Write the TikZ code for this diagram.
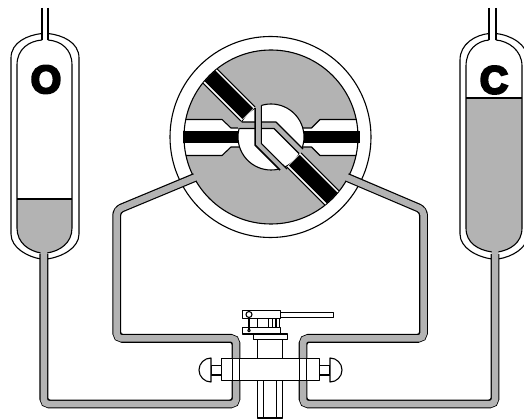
\documentclass[tikz,border=0pt]{standalone}
\usepackage{fontspec}
\setmainfont{Liberation Sans}
\newfontfamily\labelfont[BoldFeatures={FakeBold=6}]{Liberation Sans}
\definecolor{fluid}{HTML}{B3B3B3}
\tikzset{
  ln/.style={draw=black,line width=1.1pt,line join=round,line cap=butt},
  fluidfill/.style={fill=fluid,draw=none},
  pipeout/.style={draw=black,line width=8.9pt,rounded corners=5.5pt},
  pipein/.style={draw=fluid,line width=6.5pt,rounded corners=4.5pt},
  letter/.style={inner sep=0pt,font=\labelfont\bfseries\fontsize{39}{39}\selectfont}
}
\begin{document}
\begin{tikzpicture}[x=1pt,y=-1pt]
\useasboundingbox (0,0) rectangle (524,419);
\clip (0,0) rectangle (524,419);

% --- valve body (under the pipes)
\draw[ln,fill=white] (221.7,358.3) rectangle (319.3,380.7);
\draw[ln] (232.7,358.3) -- (232.7,380.7) (239.3,358.3) -- (239.3,380.7)
          (299.3,358.3) -- (299.3,380.7) (306.7,358.3) -- (306.7,380.7);
% knobs
\draw[ln,fill=white] (211,365.3) rectangle (221.7,375);
\draw[ln,fill=white] (319.3,365.3) rectangle (330,375);
\draw[ln,fill=white] (211,358) arc[start angle=-90,end angle=-270,radius=12] -- cycle;
\draw[ln,fill=white] (330,358) arc[start angle=-90,end angle=90,radius=12] -- cycle;
% stem, flange, bottom
\draw[ln,fill=white] (257.7,339.3) rectangle (282.7,358.3);
\draw[ln,fill=white] (253.3,334) rectangle (287.7,339.3);
\draw[ln,fill=white] (257.7,380.7) rectangle (282.7,418);
\draw[ln] (263.3,380.7) -- (263.3,418) (276.7,380.7) -- (276.7,418);
% head
\draw[ln,fill=white] (242.7,327.7) rectangle (280.7,334);
\draw[ln,fill=white] (280.7,312.7) rectangle (333.7,317.3);
\draw[ln] (257.3,318) -- (257.3,328) (268.3,318) -- (268.3,328) (272.7,318) -- (272.7,328)
          (276,318) -- (276,328) (279.3,318) -- (279.3,328) (249,316) -- (249,330);
\draw[ln,fill=white] (242.7,310.7) rectangle (280.7,318.3);
\draw[ln,fill=white] (249,314.5) circle[radius=3];
\draw[ln,fill=white] (249,330.5) circle[radius=1.3];

% --- left vessel
\draw[fluidfill] (17,199) -- (72,199) -- (72,228) .. controls (72,243) and (60,251) .. (48,253) -- (41,253)
   .. controls (29,251) and (17,243) .. (17,228) -- cycle;
\draw[ln] (17,199) -- (72,199);
\draw[ln] (42,33.5) .. controls (28,35) and (11,42) .. (11,58) -- (11,234) .. controls (11,248) and (28,257) .. (41,259);
\draw[ln] (48,33.5) .. controls (62,35) and (79,42) .. (79,58) -- (79,234) .. controls (79,248) and (62,257) .. (47,259);
\draw[ln] (42,40) .. controls (29,41) and (17,49) .. (17,65) -- (17,228) .. controls (17,243) and (29,251) .. (41,253);
\draw[ln] (48,40) .. controls (61,41) and (72,49) .. (72,65) -- (72,228) .. controls (72,243) and (60,251) .. (47,253);
\draw[ln] (42,8) -- (42,40) (48,8) -- (48,40);
\node[letter] (labelO) at (46,79.5) {O};

% --- right vessel
\draw[fluidfill] (466,98) -- (522,98) -- (522,228) .. controls (522,243) and (510,250) .. (498,252) -- (492,252)
   .. controls (478,250) and (466,243) .. (466,228) -- cycle;
\draw[ln] (466,98) -- (522,98);
\draw[ln] (489,33.5) .. controls (475,35) and (460,44) .. (460,60) -- (460,234) .. controls (460,248) and (477,257) .. (492,259);
\draw[ln] (496,33.5) .. controls (510,35) and (528,44) .. (528,60) -- (528,234) .. controls (528,248) and (512,257) .. (498,259);
\draw[ln] (489,40) .. controls (477,41) and (466,50) .. (466,66) -- (466,228) .. controls (466,243) and (478,250) .. (492,252);
\draw[ln] (496,40) .. controls (508,41) and (522,50) .. (522,66) -- (522,228) .. controls (522,243) and (510,250) .. (498,252);
\draw[ln] (489,8) -- (489,40) (496,8) -- (496,40);
\node[letter] (labelC) at (494,80) {C};

% --- selector: ring and disk
\draw[ln,fill=white] (270.5,137) circle[radius=100.5];
\fill[fluid] (271,137) circle[radius=87];
\begin{scope}
  \clip (271,137) circle[radius=87];
  \fill[white] (180,119.5) -- (222,119.5) -- (231,128) -- (240,128) -- (240,147) -- (231,147) -- (222,155.5) -- (180,155.5) -- cycle;
  \fill[white] (362,119.5) -- (320,119.5) -- (311.5,128) -- (302,128) -- (302,147) -- (311.5,147) -- (320,155.5) -- (362,155.5) -- cycle;
  \draw[ln] (180,119.5) -- (222,119.5) -- (231,128) -- (240,128)
            (240,147) -- (231,147) -- (222,155.5) -- (180,155.5);
  \draw[ln] (362,119.5) -- (320,119.5) -- (311.5,128) -- (302,128)
            (302,147) -- (311.5,147) -- (320,155.5) -- (362,155.5);
\end{scope}
\draw[ln] (271,137) circle[radius=87];

% rotor
\draw[ln,fill=white] (271,137) circle[radius=33];
\fill[fluid] (238,122) -- (276,122) -- (305,151) -- (300,155.5) -- (274,128.5) -- (238,128.5) -- cycle;
\draw[ln] (241.5,122) -- (276,122) -- (303,149);
\draw[ln] (239.3,128.5) -- (274,128.5) -- (299,153.5);
\fill[fluid] (255,103) -- (261.3,103) -- (261.3,143.5) -- (290,172) -- (282,172) -- (255,145) -- cycle;
\draw[ln,line width=1.5pt] (255,108) -- (255,145) -- (280,170);
\draw[ln] (261.3,105.5) -- (261.3,143.5) -- (287,169);

% horizontal bars
\fill[black] (182.5,131.5) rectangle (238,143.5);
\fill[black] (304,131.5) rectangle (359.5,143.5);

% diagonal bars
\foreach \ang in {-45,135}{
  \begin{scope}[shift={(271,137)},rotate=\ang]
    \fill[white] (32.5,-10) rectangle (86,10);
    \draw[ln] (32.5,-10) -- (86,-10) (32.5,10) -- (86,10);
    \fill[black] (33,-7.6) rectangle (86.6,7.6);
  \end{scope}
}

% --- pipes
\draw[pipeout] (195,177.4) -- (116.7,210) -- (116.7,338.3) -- (236,338.3) -- (236,358);
\draw[pipein]  (198,176.2) -- (116.7,210) -- (116.7,338.3) -- (236,338.3) -- (236,358);
\draw[pipeout] (347,177.4) -- (423.5,210) -- (423.5,338.3) -- (303,338.3) -- (303,358);
\draw[pipein]  (344,176.2) -- (423.5,210) -- (423.5,338.3) -- (303,338.3) -- (303,358);
\draw[pipeout] (43.8,254) -- (43.8,404) -- (236,404) -- (236,381);
\draw[pipein]  (43.8,250) -- (43.8,404) -- (236,404) -- (236,381);
\draw[pipeout] (495,254) -- (495,404) -- (303,404) -- (303,381);
\draw[pipein]  (495,250) -- (495,404) -- (303,404) -- (303,381);
\end{tikzpicture}
\end{document}
